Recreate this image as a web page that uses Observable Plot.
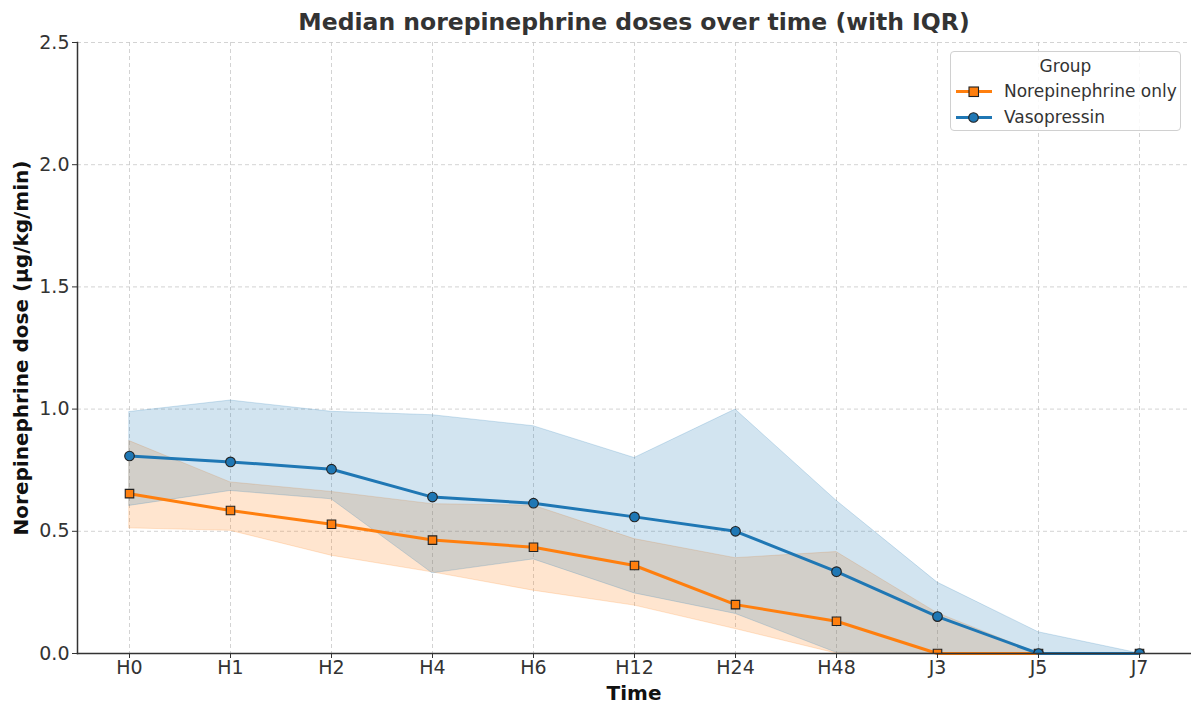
<!DOCTYPE html>
<html>
<head>
<meta charset="utf-8">
<script src="https://cdn.jsdelivr.net/npm/d3@7"></script>
<script src="https://cdn.jsdelivr.net/npm/@observablehq/plot@0.6"></script>
<style>
  html, body { margin: 0; padding: 0; background: #fff; }
  #wrap { position: relative; width: 1191px; height: 707px; font-family: "DejaVu Sans", sans-serif; }
  #legend {
    position: absolute; left: 950px; top: 51px; width: 231px; height: 80px;
    box-sizing: border-box; border: 1px solid #d0d0d0; border-radius: 4px;
    background: rgba(255,255,255,0.85); color: #333; font-size: 17px;
  }
  #legend .ttl { text-align: center; margin-top: 3px; height: 23px; line-height: 23px; }
  #legend .row { display: flex; align-items: center; height: 26px; padding-left: 4px; }
  #legend .row svg { margin-right: 11px; }
</style>
</head>
<body>
<div id="wrap"></div>
<script>
const times = ["H0","H1","H2","H4","H6","H12","H24","H48","J3","J5","J7"];
const groups = ["Norepinephrine only","Vasopressin"];
const colors = ["#ff7f0e","#1f77b4"];

const noreMedian = [0.654,0.585,0.529,0.464,0.435,0.360,0.200,0.132,0,0,0];
const noreQ1     = [0.512,0.502,0.400,0.332,0.257,0.196,0.100,0,0,0,0];
const noreQ3     = [0.869,0.700,0.661,0.611,0.605,0.468,0.390,0.415,0.165,0,0];

const vasoMedian = [0.808,0.784,0.754,0.640,0.615,0.559,0.500,0.335,0.151,0,0];
const vasoQ1     = [0.604,0.665,0.631,0.328,0.385,0.246,0.162,0.003,0,0,0];
const vasoQ3     = [0.988,1.035,0.989,0.975,0.930,0.800,0.998,0.625,0.290,0.087,0];

const yTicks = [0,0.5,1.0,1.5,2.0,2.5];
const title = "Median norepinephrine doses over time (with IQR)";
const xLabel = "Time";
const yLabel = "Norepinephrine dose (µg/kg/min)";

const nore = times.map((t,i)=>({time:t, med:noreMedian[i], lo:noreQ1[i], hi:noreQ3[i]}));
const vaso = times.map((t,i)=>({time:t, med:vasoMedian[i], lo:vasoQ1[i], hi:vasoQ3[i]}));

const plot = Plot.plot({
  width: 1191,
  height: 707,
  marginLeft: 77,
  marginRight: 1,
  marginTop: 42,
  marginBottom: 54,
  style: {fontFamily: "DejaVu Sans, sans-serif", color: "#333", background: "transparent"},
  x: {type: "point", domain: times, padding: 0.5},
  y: {domain: [0, 2.5]},
  marks: [
    Plot.gridX(times, {stroke: "#c8c8c8", strokeOpacity: 1, strokeDasharray: "4,3", strokeWidth: 0.8}),
    Plot.gridY(yTicks, {stroke: "#c8c8c8", strokeOpacity: 1, strokeDasharray: "4,3", strokeWidth: 0.8}),
    Plot.areaY(nore, {x: "time", y1: "lo", y2: "hi", fill: colors[0], fillOpacity: 0.2, stroke: colors[0], strokeOpacity: 0.2, strokeWidth: 1}),
    Plot.areaY(vaso, {x: "time", y1: "lo", y2: "hi", fill: colors[1], fillOpacity: 0.2, stroke: colors[1], strokeOpacity: 0.2, strokeWidth: 1}),
    Plot.lineY(nore, {x: "time", y: "med", stroke: colors[0], strokeWidth: 3}),
    Plot.dot(nore, {x: "time", y: "med", symbol: "square", r: 4.8, fill: colors[0], stroke: "#222", strokeWidth: 1.1, clip: true}),
    Plot.lineY(vaso, {x: "time", y: "med", stroke: colors[1], strokeWidth: 3}),
    Plot.dot(vaso, {x: "time", y: "med", symbol: "circle", r: 4.8, fill: colors[1], stroke: "#222", strokeWidth: 1.1, clip: true}),
    Plot.frame({anchor: "left", stroke: "#333", strokeWidth: 1.5}),
    Plot.frame({anchor: "bottom", stroke: "#333", strokeWidth: 1.5}),
    Plot.axisY({ticks: yTicks, tickFormat: d3.format(".1f"), fontSize: 19, tickSize: 5, tickPadding: 3, label: null, color: "#333"}),
    Plot.axisX({fontSize: 19, tickSize: 5, tickPadding: 2, label: null, color: "#333"}),
    Plot.text([title], {frameAnchor: "top", lineAnchor: "middle", textAnchor: "middle", dy: -20, fontSize: 23.5, fontWeight: "bold", fill: "#333"}),
    Plot.text([xLabel], {frameAnchor: "bottom", lineAnchor: "middle", textAnchor: "middle", dy: 40, fontSize: 20, fontWeight: "bold", fill: "#111"}),
    Plot.text([yLabel], {frameAnchor: "left", lineAnchor: "middle", textAnchor: "middle", dx: -56, rotate: -90, fontSize: 20, fontWeight: "bold", fill: "#111"})
  ]
});

const wrap = document.getElementById("wrap");
wrap.appendChild(plot);

const legend = document.createElement("div");
legend.id = "legend";
const ttl = document.createElement("div");
ttl.className = "ttl";
ttl.textContent = "Group";
legend.appendChild(ttl);
groups.forEach((g, i) => {
  const row = document.createElement("div");
  row.className = "row";
  const sym = i === 0
    ? `<rect x="14" y="4" width="9.5" height="9.5" fill="${colors[i]}" stroke="#222" stroke-width="1.1"/>`
    : `<circle cx="18.5" cy="8.5" r="4.8" fill="${colors[i]}" stroke="#222" stroke-width="1.1"/>`;
  row.innerHTML = `<svg width="38" height="17"><line x1="1" x2="37" y1="8.5" y2="8.5" stroke="${colors[i]}" stroke-width="3"/>${sym}</svg><span>${g}</span>`;
  legend.appendChild(row);
});
wrap.appendChild(legend);
</script>
</body>
</html>
